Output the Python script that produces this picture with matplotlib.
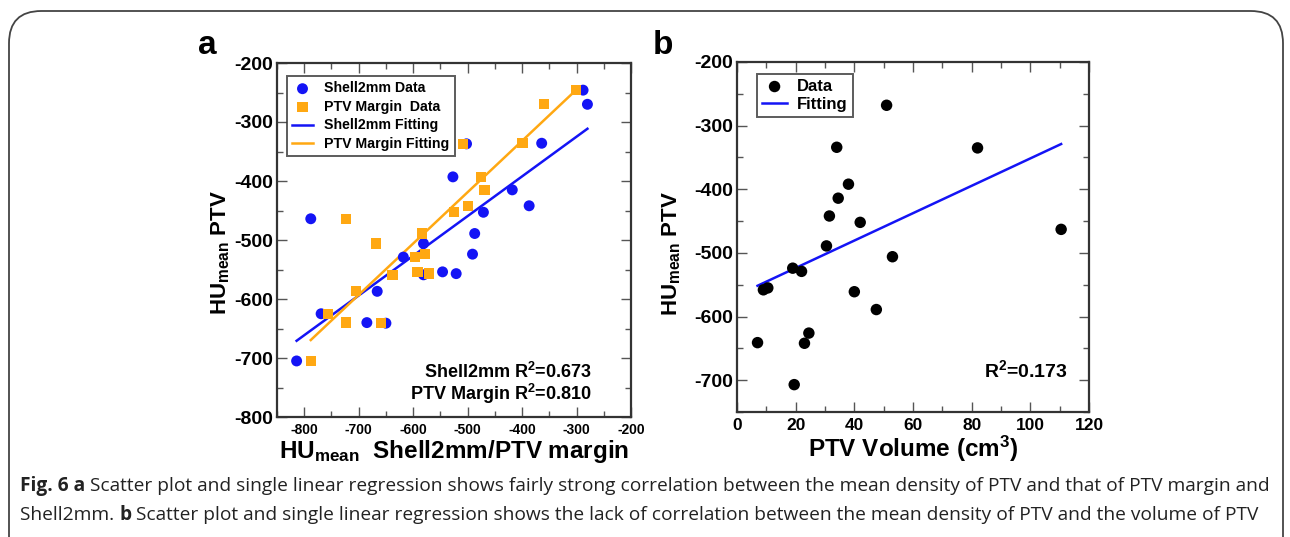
import numpy as np
import matplotlib
matplotlib.use("Agg")
import matplotlib.pyplot as plt
from matplotlib.patches import FancyBboxPatch
from matplotlib.ticker import MultipleLocator

plt.rcParams['font.family'] = ['Liberation Sans', 'DejaVu Sans']
plt.rcParams['font.weight'] = 'bold'
plt.rcParams['axes.unicode_minus'] = False
plt.rcParams['mathtext.fontset'] = 'custom'
plt.rcParams['mathtext.rm'] = 'Liberation Sans:bold'
plt.rcParams['mathtext.it'] = 'Liberation Sans:bold'
plt.rcParams['mathtext.bf'] = 'Liberation Sans:bold'

# ---------------- data: panel a ----------------
ptv_mean_a = [-246, -270, -337, -336, -393, -415, -442, -453, -464, -489, -506,
              -524, -529, -554, -557, -559, -587, -625, -640, -641, -705]
shell2mm_mean = [-288, -280, -502, -364, -527, -418, -387, -471, -788, -487, -581,
                 -491, -618, -546, -521, -581, -666, -769, -685, -650, -814]
margin_mean = [-301, -360, -509, -399, -475, -469, -499, -525, -723, -584, -668,
               -578, -597, -592, -571, -638, -705, -756, -723, -659, -788]
shell_fit = (0.673, -123.0)     # slope, intercept
margin_fit = (0.870, 16.0)
r2_shell = 0.673
r2_margin = 0.810

# ---------------- data: panel b ----------------
ptv_volume = [51, 34, 82, 38, 34.5, 31.5, 42, 110.5, 30.5, 53, 19, 22, 9, 10.5,
              40, 47.5, 24.5, 23, 7, 19.5]
ptv_mean_b = [-268, -334, -335, -392, -414, -442, -452, -463, -489, -506, -524,
              -529, -558, -555, -561, -589, -626, -642, -641, -707]
vol_fit = (2.152, -566.7)
r2_vol = 0.173

BLUE = '#1414f5'
ORANGE = '#ffa812'
SPINE = '#333333'

W, H = 1290, 537
fig = plt.figure(figsize=(W / 100, H / 100), dpi=100)


def style_axes(ax, xmaj, xmin, ymaj, ymin, xfs, yfs):
    for s in ax.spines.values():
        s.set_color(SPINE)
        s.set_linewidth(1.6)
    ax.xaxis.set_major_locator(MultipleLocator(xmaj))
    ax.xaxis.set_minor_locator(MultipleLocator(xmin))
    ax.yaxis.set_major_locator(MultipleLocator(ymaj))
    ax.yaxis.set_minor_locator(MultipleLocator(ymin))
    ax.tick_params(which='both', direction='in', top=True, right=True,
                   color='#555555', width=1.0)
    ax.tick_params(which='major', length=7)
    ax.tick_params(which='minor', length=4)
    ax.tick_params(axis='x', which='major', labelsize=xfs, pad=4)
    ax.tick_params(axis='y', which='major', labelsize=yfs, pad=3)
    for lab in ax.get_xticklabels() + ax.get_yticklabels():
        lab.set_fontweight('bold')


# ---------------- panel a ----------------
axa = fig.add_axes([277 / W, 1 - 417 / H, 354 / W, 354 / H])
axa.scatter(shell2mm_mean, ptv_mean_a, s=62, marker='o', color=BLUE,
            edgecolors='none', zorder=3, label='Shell2mm Data')
axa.scatter(margin_mean, ptv_mean_a, s=55, marker='s', color=ORANGE,
            edgecolors='none', zorder=3, label='PTV Margin  Data')
xs = np.array([min(shell2mm_mean), max(shell2mm_mean)])
axa.plot(xs, shell_fit[0] * xs + shell_fit[1], color=BLUE, lw=1.8,
         label='Shell2mm Fitting', zorder=2)
xm = np.array([min(margin_mean), max(margin_mean)])
axa.plot(xm, margin_fit[0] * xm + margin_fit[1], color=ORANGE, lw=1.8,
         label='PTV Margin Fitting', zorder=2)
axa.set_xlim(-850, -200)
axa.set_ylim(-800, -200)
style_axes(axa, 100, 50, 100, 50, 10, 14)
axa.set_xticks([-800, -700, -600, -500, -400, -300, -200])
leg = axa.legend(loc='upper left', bbox_to_anchor=(0.028, 0.962),
                 prop={'weight': 'bold', 'size': 10.2}, frameon=True,
                 fancybox=False, edgecolor='#333333', handlelength=1.5,
                 handletextpad=0.8, labelspacing=0.32, borderpad=0.35,
                 borderaxespad=0)
leg.get_frame().set_linewidth(1.4)
axa.text(0.89, 0.128, 'Shell2mm R$^{2}$=%.3f' % r2_shell, transform=axa.transAxes,
         ha='right', va='center', fontsize=13, fontweight='bold')
axa.text(0.89, 0.066, 'PTV Margin R$^{2}$=%.3f' % r2_margin, transform=axa.transAxes,
         ha='right', va='center', fontsize=13, fontweight='bold')
axa.set_ylabel('HU$_{\\mathrm{mean}}$ PTV', fontsize=16, fontweight='bold')
axa.yaxis.set_label_coords(-0.127, 0.466)
axa.set_xlabel('HU$_{\\mathrm{mean}}$  Shell2mm/PTV margin', fontsize=17.5,
               fontweight='bold', labelpad=1)
fig.text(207 / W, 1 - 45 / H, 'a', fontsize=24, fontweight='bold', ha='center', va='center')

# ---------------- panel b ----------------
axb = fig.add_axes([737 / W, 1 - 412 / H, 352 / W, 350 / H])
axb.scatter(ptv_volume, ptv_mean_b, s=68, marker='o', color='black',
            edgecolors='none', zorder=3, label='Data')
xv = np.array([min(ptv_volume), max(ptv_volume)])
axb.plot(xv, vol_fit[0] * xv + vol_fit[1], color=BLUE, lw=1.8, label='Fitting', zorder=2)
axb.set_xlim(0, 120)
axb.set_ylim(-750, -200)
style_axes(axb, 20, 10, 100, 50, 12.5, 14)
axb.set_yticks([-700, -600, -500, -400, -300, -200])
legb = axb.legend(loc='upper left', bbox_to_anchor=(0.057, 0.966),
                  prop={'weight': 'bold', 'size': 12}, frameon=True,
                  fancybox=False, edgecolor='#333333', handlelength=1.5,
                  handletextpad=0.6, labelspacing=0.2, borderpad=0.3,
                  borderaxespad=0)
legb.get_frame().set_linewidth(1.4)
axb.text(0.94, 0.12, 'R$^{2}$=%.3f' % r2_vol, transform=axb.transAxes,
         ha='right', va='center', fontsize=14, fontweight='bold')
axb.set_ylabel('HU$_{\\mathrm{mean}}$ PTV', fontsize=16, fontweight='bold')
axb.yaxis.set_label_coords(-0.153, 0.454)
axb.set_xlabel('PTV Volume (cm$^{3}$)', fontsize=17.5, fontweight='bold', labelpad=1)
fig.text(663 / W, 1 - 45 / H, 'b', fontsize=24, fontweight='bold', ha='center', va='center')

# ---------------- frame ----------------
frame = FancyBboxPatch((9 / W, -0.2), (1283 - 9) / W, (H - 11) / H + 0.2,
                       boxstyle='round,pad=0,rounding_size=0.025',
                       transform=fig.transFigure, fill=False,
                       edgecolor='#444444', linewidth=1.3, mutation_aspect=W / H)
fig.patches.append(frame)

# ---------------- caption ----------------
cap_font = ['Open Sans', 'DejaVu Sans']
cap_size = 13.8
renderer = fig.canvas.get_renderer()


def draw_runs(runs, x0, y):
    x = x0
    for txt, weight in runs:
        t = fig.text(x / W, 1 - y / H, txt, fontsize=cap_size, family=cap_font,
                     fontweight=weight, ha='left', va='baseline', color='#222222')
        bb = t.get_window_extent(renderer=renderer)
        x += bb.width


draw_runs([('Fig. 6 a', 'bold'),
           (' Scatter plot and single linear regression shows fairly strong correlation '
            'between the mean density of PTV and that of PTV margin and', 'normal')],
          20, 491)
draw_runs([('Shell2mm. ', 'normal'), ('b', 'bold'),
           (' Scatter plot and single linear regression shows the lack of correlation '
            'between the mean density of PTV and the volume of PTV', 'normal')],
          20, 520)

fig.savefig('out.png', dpi=100)
